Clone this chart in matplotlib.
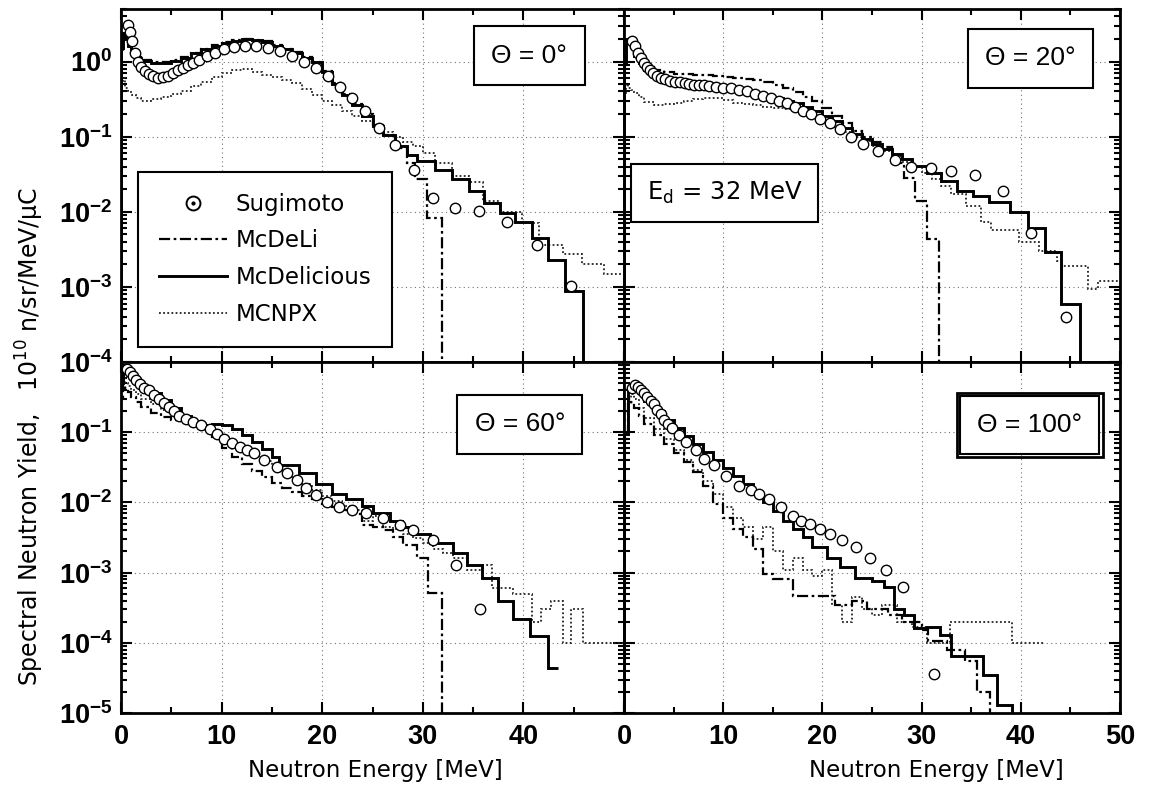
import math
import matplotlib
matplotlib.use("Agg")
import matplotlib.pyplot as plt
from matplotlib.lines import Line2D
from matplotlib.legend_handler import HandlerTuple
from matplotlib.ticker import MultipleLocator, LogLocator, NullFormatter

# ---------------- DATA ----------------
# Theta = 0 deg
E_sug_0 = [0.7, 0.9, 1.1, 1.4, 1.7, 2.0, 2.4, 2.8, 3.2, 3.7, 4.2, 4.7, 5.2, 5.7, 6.2, 6.7, 7.2, 7.8, 8.5, 9.3,
           10.2, 11.2, 12.3, 13.4, 14.6, 15.8, 17.0, 18.2, 19.4, 20.6, 21.8, 23.0, 24.3, 25.6, 27.2, 29.1, 31.0,
           33.2, 35.6, 38.4, 41.4, 44.7]
y_sug_0 = [3.1, 2.5, 1.9, 1.3, 1.0, 0.85, 0.75, 0.68, 0.64, 0.61, 0.62, 0.65, 0.70, 0.76, 0.82, 0.89, 0.96, 1.05,
           1.18, 1.3, 1.45, 1.55, 1.62, 1.62, 1.52, 1.38, 1.18, 0.98, 0.82, 0.64, 0.46, 0.33, 0.22, 0.13, 0.078,
           0.036, 0.0152, 0.0112, 0.0101, 0.0074, 0.0036, 0.00103]
edges_delicious_0 = [0, 0.2, 0.4, 0.7, 1.0, 1.5, 2, 3, 4, 5, 6, 7, 8, 9, 10, 11, 12, 13, 14, 15, 16, 17, 18, 19,
                     20, 21, 22, 23, 24, 25, 26, 27.2, 28.4, 29.4, 31.2, 32.9, 34.6, 36.1, 37.7, 39.2, 40.9, 42.4,
                     44.1, 45.9]
y_delicious_0 = [1.5, 2.4, 2.0, 1.6, 1.3, 1.12, 1.02, 0.97, 0.97, 1.03, 1.13, 1.28, 1.45, 1.62, 1.78, 1.9, 1.97,
                 1.95, 1.82, 1.62, 1.45, 1.3, 1.12, 0.98, 0.72, 0.5, 0.36, 0.26, 0.19, 0.14, 0.105, 0.074, 0.057,
                 0.047, 0.036, 0.027, 0.019, 0.013, 0.0096, 0.0074, 0.0045, 0.0023, 0.00087]
edges_deli_0 = [0, 0.2, 0.4, 0.7, 1.0, 1.5, 2, 3, 4, 5, 6, 7, 8, 9, 10, 11, 12, 13, 14, 15, 16, 17, 18, 19, 20,
                21, 22, 23, 24, 25, 26, 27.2, 28.4, 29.2, 30.4, 31.9]
y_deli_0 = [1.3, 2.3, 2.1, 1.7, 1.35, 1.15, 1.05, 1.0, 1.0, 1.05, 1.15, 1.3, 1.48, 1.65, 1.8, 1.92, 1.98, 1.95,
            1.85, 1.66, 1.48, 1.32, 1.15, 1.0, 0.75, 0.52, 0.37, 0.27, 0.2, 0.145, 0.105, 0.07, 0.045, 0.027,
            0.0083]
edges_mcnpx_0 = [0, 0.2, 0.4, 0.7, 1.0, 1.5, 2, 3, 4, 5, 6, 7, 8, 9, 10, 11, 12, 13, 14, 15, 16, 17, 18, 19, 20,
                 21, 22, 23, 24, 25, 26, 27, 28, 29, 30, 31.2, 32.9, 34.6, 36, 37.7, 39.9, 41.6, 43.9, 45.8, 48, 50]
y_mcnpx_0 = [0.5, 0.6, 0.45, 0.4, 0.36, 0.33, 0.3, 0.32, 0.34, 0.37, 0.41, 0.47, 0.54, 0.62, 0.7, 0.76, 0.79,
             0.72, 0.67, 0.62, 0.57, 0.52, 0.43, 0.36, 0.3, 0.26, 0.22, 0.19, 0.16, 0.14, 0.115, 0.1, 0.085,
             0.074, 0.06, 0.045, 0.03, 0.025, 0.0138, 0.01, 0.007, 0.0036, 0.0027, 0.002, 0.0015]

# Theta = 20 deg
E_sug_20 = [0.8, 1.1, 1.4, 1.7, 2.0, 2.3, 2.6, 2.9, 3.3, 3.7, 4.1, 4.6, 5.1, 5.6, 6.1, 6.6, 7.1, 7.6, 8.1, 8.6,
            9.3, 10.0, 10.8, 11.6, 12.4, 13.2, 14.0, 14.8, 15.6, 16.4, 17.2, 18.0, 18.9, 19.8, 20.8, 21.8, 22.9,
            24.1, 25.6, 27.3, 28.9, 30.9, 33.0, 35.4, 38.2, 41.0, 44.6]
y_sug_20 = [1.9, 1.6, 1.3, 1.1, 0.95, 0.85, 0.77, 0.71, 0.65, 0.61, 0.58, 0.55, 0.54, 0.53, 0.52, 0.5, 0.49, 0.49,
            0.48, 0.47, 0.46, 0.45, 0.44, 0.42, 0.4, 0.37, 0.35, 0.33, 0.3, 0.28, 0.25, 0.22, 0.2, 0.17, 0.15,
            0.125, 0.1, 0.08, 0.064, 0.049, 0.04, 0.038, 0.035, 0.031, 0.019, 0.0052, 0.0004]
edges_delicious_20 = [0, 0.2, 0.4, 0.7, 1.0, 1.5, 2, 3, 4, 5, 6, 7, 8, 9, 10, 11, 12, 13, 14, 15, 16, 17, 18, 19,
                      20, 21, 22, 23, 24, 25, 26, 27, 28, 29, 30.5, 32, 33.6, 35.2, 36.8, 38.9, 40.7, 42.4, 44.1,
                      46]
y_delicious_20 = [1.0, 2.0, 1.9, 1.6, 1.2, 0.95, 0.78, 0.64, 0.58, 0.55, 0.53, 0.51, 0.49, 0.47, 0.45, 0.43,
                  0.41, 0.38, 0.36, 0.33, 0.3, 0.28, 0.25, 0.22, 0.19, 0.16, 0.13, 0.11, 0.093, 0.08, 0.068,
                  0.058, 0.05, 0.041, 0.033, 0.026, 0.019, 0.016, 0.0135, 0.0098, 0.006, 0.0029, 0.0006]
edges_deli_20 = [0, 0.2, 0.4, 0.7, 1.0, 1.5, 2, 3, 4, 5, 6, 7, 8, 9, 10, 11, 12, 13, 14, 15, 16, 17, 18, 19, 20,
                 21, 22, 23, 24, 25, 26, 27, 28.2, 29.3, 30.5, 31.8]
y_deli_20 = [0.9, 1.9, 1.8, 1.5, 1.2, 1.0, 0.85, 0.76, 0.72, 0.69, 0.68, 0.67, 0.66, 0.64, 0.63, 0.61, 0.59, 0.57,
             0.54, 0.49, 0.44, 0.39, 0.34, 0.3, 0.24, 0.19, 0.15, 0.12, 0.1, 0.085, 0.072, 0.045, 0.028, 0.014,
             0.0043]
edges_mcnpx_20 = [0, 0.2, 0.4, 0.7, 1.0, 1.5, 2, 3, 4, 5, 6, 7, 8, 9, 10, 11, 12, 13, 14, 15, 16, 17, 18, 19, 20,
                  21, 22, 23, 24, 25, 26, 27, 28, 29, 30, 31, 32, 33, 34.5, 36, 37, 39.8, 41.8, 43.6, 44.2, 46.8,
                  47.8, 50]
y_mcnpx_20 = [0.35, 0.5, 0.45, 0.42, 0.38, 0.34, 0.29, 0.26, 0.27, 0.28, 0.3, 0.32, 0.33, 0.33, 0.31, 0.28, 0.27,
              0.26, 0.25, 0.24, 0.23, 0.21, 0.2, 0.18, 0.16, 0.135, 0.115, 0.1, 0.088, 0.075, 0.065, 0.055, 0.046,
              0.04, 0.033, 0.027, 0.022, 0.017, 0.012, 0.0072, 0.0058, 0.004, 0.003, 0.0022, 0.0019, 0.00095,
              0.0012]

# Theta = 60 deg
E_sug_60 = [0.6, 0.9, 1.2, 1.5, 1.9, 2.3, 2.8, 3.3, 3.8, 4.3, 4.8, 5.3, 5.8, 6.5, 7.2, 8.0, 8.8, 9.5, 10.2, 11.0,
            11.8, 12.5, 13.2, 14.2, 15.5, 16.5, 17.5, 18.4, 19.4, 20.5, 21.7, 23.0, 24.4, 26.0, 27.7, 29.0, 31.0,
            33.3, 35.7]
y_sug_60 = [0.8, 0.72, 0.63, 0.55, 0.48, 0.43, 0.4, 0.34, 0.3, 0.26, 0.23, 0.2, 0.17, 0.155, 0.14, 0.125, 0.112,
            0.095, 0.081, 0.07, 0.062, 0.055, 0.05, 0.04, 0.032, 0.026, 0.021, 0.016, 0.0126, 0.01, 0.0085,
            0.0077, 0.007, 0.0059, 0.0047, 0.004, 0.0029, 0.0013, 0.0003]
edges_delicious_60 = [0, 0.2, 0.4, 0.7, 1.0, 1.5, 2, 3, 4, 5, 6, 7, 8, 9, 10, 11, 12, 13, 14, 15, 15.7, 17.7,
                      19.4, 21, 22.4, 24, 25, 26.7, 27.9, 29, 30.7, 33, 34.4, 35.9, 37.5, 39, 40.7, 42.4, 43.4]
y_delicious_60 = [0.5, 0.9, 0.85, 0.75, 0.65, 0.55, 0.44, 0.36, 0.29, 0.22, 0.17, 0.135, 0.128, 0.13, 0.125,
                  0.11, 0.09, 0.073, 0.058, 0.045, 0.034, 0.026, 0.018, 0.013, 0.011, 0.009, 0.007, 0.0055,
                  0.0045, 0.0036, 0.0026, 0.0019, 0.0013, 0.00085, 0.0004, 0.00022, 0.000126, 4.4e-5]
edges_deli_60 = [0, 0.2, 0.4, 0.7, 1.0, 1.5, 2, 3, 4, 5, 6, 7, 8, 9, 10, 11, 12, 13, 14, 15, 16, 17, 18, 19, 20,
                 21, 22, 23, 24, 25, 26, 27, 28, 29.4, 30.5, 31.9]
y_deli_60 = [0.3, 0.5, 0.42, 0.37, 0.32, 0.27, 0.23, 0.19, 0.165, 0.15, 0.145, 0.135, 0.115, 0.085, 0.06, 0.045,
             0.035, 0.028, 0.023, 0.019, 0.016, 0.014, 0.0125, 0.011, 0.0095, 0.0085, 0.0078, 0.0068, 0.0047,
             0.0045, 0.004, 0.0032, 0.0025, 0.0016, 0.00052]
edges_mcnpx_60 = [0, 0.2, 0.4, 0.7, 1.0, 1.5, 2, 3, 4, 5, 6, 7, 8, 9, 10, 11, 12, 13, 14, 15, 16, 17, 18, 19, 20,
                  21, 22, 23, 24, 25, 26, 27, 28, 29, 30, 31, 32, 33, 34.4, 36, 36.9, 39, 40.9, 41.7, 42.7, 43.9,
                  44.7, 45.9, 50]
y_mcnpx_60 = [0.5, 0.6, 0.5, 0.45, 0.4, 0.35, 0.3, 0.25, 0.21, 0.18, 0.155, 0.135, 0.115, 0.095, 0.08, 0.066,
              0.055, 0.046, 0.039, 0.033, 0.027, 0.022, 0.018, 0.015, 0.0125, 0.0105, 0.009, 0.0078, 0.0055,
              0.0063, 0.0045, 0.0042, 0.0036, 0.0031, 0.0026, 0.0022, 0.0019, 0.0016, 0.0011, 0.0013, 0.0006,
              0.0005, 0.0002, 0.0003, 0.0004, 0.0001, 0.0003, 0.0001]

# Theta = 100 deg
E_sug_100 = [0.8, 1.1, 1.4, 1.7, 2.0, 2.3, 2.7, 3.0, 3.3, 3.7, 4.0, 4.4, 4.8, 5.5, 6.3, 7.3, 8.1, 9.1, 10.3, 11.6,
             12.8, 13.6, 14.6, 15.8, 17.0, 17.8, 18.8, 19.8, 20.8, 22.0, 23.4, 24.8, 26.4, 28.1, 31.2]
y_sug_100 = [0.42, 0.47, 0.44, 0.4, 0.36, 0.32, 0.28, 0.25, 0.21, 0.18, 0.15, 0.13, 0.113, 0.091, 0.073, 0.055,
             0.042, 0.034, 0.024, 0.017, 0.015, 0.013, 0.011, 0.0085, 0.0065, 0.0055, 0.0049, 0.0042, 0.0035,
             0.0029, 0.0023, 0.0016, 0.0011, 0.00063, 3.6e-5]
edges_delicious_100 = [0, 0.4, 0.7, 1.0, 1.5, 2, 3, 4, 5, 6, 7, 8, 9, 10, 11, 12, 13, 14, 15, 16, 17, 18, 19,
                       20.5, 21.8, 23.3, 25, 26.2, 27.2, 28.2, 29.2, 30.5, 31.9, 33, 36.2, 37.6, 39.1]
y_delicious_100 = [0.1, 0.4, 0.48, 0.45, 0.37, 0.28, 0.2, 0.15, 0.115, 0.088, 0.068, 0.052, 0.04, 0.031, 0.024,
                   0.018, 0.013, 0.01, 0.0075, 0.0055, 0.0042, 0.0032, 0.0023, 0.0016, 0.0012, 0.00085, 0.00075,
                   0.00062, 0.0003, 0.00025, 0.00016, 0.00017, 0.00013, 6.4e-5, 3.5e-5, 1.3e-5]
edges_deli_100 = [0, 0.4, 0.7, 1.0, 1.5, 2, 3, 4, 5, 6, 7, 8, 9, 10, 11, 12, 13, 14, 15, 17, 21.3, 23, 24.5,
                  26.6, 28, 30, 30.6, 32.6, 34.4, 35.6, 36.9]
y_deli_100 = [0.08, 0.25, 0.27, 0.22, 0.17, 0.13, 0.09, 0.068, 0.05, 0.038, 0.027, 0.017, 0.0095, 0.006, 0.0042,
              0.0032, 0.0022, 0.00095, 0.0008, 0.00047, 0.00035, 0.0004, 0.0003, 0.00025, 0.0002, 0.00015,
              0.000107, 8e-5, 5.5e-5, 2e-5]
edges_mcnpx_100 = [0, 0.4, 0.7, 1.0, 1.5, 2, 3, 4, 5, 6, 7, 8, 9, 10, 11, 12, 13, 14, 15, 16, 17, 18, 19, 20,
                   21, 22, 23, 24, 25, 26, 27.5, 29, 30.5, 32.9, 39.1, 42.3]
y_mcnpx_100 = [0.1, 0.3, 0.35, 0.3, 0.22, 0.16, 0.11, 0.08, 0.056, 0.04, 0.029, 0.02, 0.013, 0.0085, 0.006,
               0.0045, 0.003, 0.0045, 0.002, 0.0011, 0.0016, 0.0011, 0.0009, 0.0011, 0.00035, 0.0002, 0.00045,
               0.0003, 0.00025, 0.00035, 0.0002, 0.00017, 0.0001, 0.0002, 0.0001]

angle_labels = ["Θ = 0°", "Θ = 20°", "Θ = 60°", "Θ = 100°"]
legend_labels = ["Sugimoto", "McDeLi", "McDelicious", "MCNPX"]
x_tick_values = [0, 10, 20, 30, 40, 50]
y_ticks_top = [1e-4, 1e-3, 1e-2, 1e-1, 1e0]
y_ticks_bottom = [1e-5, 1e-4, 1e-3, 1e-2, 1e-1, 1e0]

# ---------------- STYLE ----------------
plt.rcParams['font.family'] = ['DejaVu Sans']
plt.rcParams['mathtext.default'] = 'regular'
plt.rcParams['axes.linewidth'] = 2.0

STY_DELI = dict(color='black', linewidth=1.6, linestyle=(0, (5, 1.6, 1.2, 1.6)))
STY_DELICIOUS = dict(color='black', linewidth=2.1, linestyle='-')
STY_MCNPX = dict(color='#222222', linewidth=1.3, linestyle=(0, (1, 1.3)))
TICKFONT = dict(family='Liberation Sans', weight='bold', size=19.5)

fig = plt.figure(figsize=(11.57, 7.86), dpi=100)
W, H = 1157, 786
L, M, R = 121 / W, 624 / W, 1120 / W
T, MID, B = 1 - 9 / H, 1 - 362 / H, 1 - 713 / H
axTL = fig.add_axes([L, MID, M - L, T - MID])
axTR = fig.add_axes([M, MID, R - M, T - MID])
axBL = fig.add_axes([L, B, M - L, MID - B])
axBR = fig.add_axes([M, B, R - M, MID - B])

BASE = 1e-9


def draw(ax, Es, ys, e_deli, y_deli, e_del, y_del, e_mc, y_mc, del_drop):
    ax.stairs(y_mc, e_mc, baseline=None, zorder=2, **STY_MCNPX)
    ax.stairs(y_deli, e_deli, baseline=BASE, zorder=3, **STY_DELI)
    ax.stairs(y_del, e_del, baseline=BASE if del_drop else None, zorder=4, **STY_DELICIOUS)
    ax.plot(Es, ys, ls='none', marker='o', ms=7.5, mfc='white', mec='black', mew=1.0, zorder=5)


draw(axTL, E_sug_0, y_sug_0, edges_deli_0, y_deli_0, edges_delicious_0, y_delicious_0,
     edges_mcnpx_0, y_mcnpx_0, True)
draw(axTR, E_sug_20, y_sug_20, edges_deli_20, y_deli_20, edges_delicious_20, y_delicious_20,
     edges_mcnpx_20, y_mcnpx_20, True)
draw(axBL, E_sug_60, y_sug_60, edges_deli_60, y_deli_60, edges_delicious_60, y_delicious_60,
     edges_mcnpx_60, y_mcnpx_60, False)
draw(axBR, E_sug_100, y_sug_100, edges_deli_100, y_deli_100, edges_delicious_100, y_delicious_100,
     edges_mcnpx_100, y_mcnpx_100, True)


def exp_label(v):
    return r'$10^{%d}$' % int(round(math.log10(v)))


for ax, top, left in [(axTL, True, True), (axTR, True, False), (axBL, False, True), (axBR, False, False)]:
    ax.set_yscale('log')
    ax.set_xlim(0, 50)
    if top:
        ax.set_ylim(1e-4, 5)
        yt = y_ticks_top
        ylabs = [exp_label(v) for v in yt]
    else:
        ax.set_ylim(1e-5, 1)
        yt = y_ticks_bottom
        ylabs = [exp_label(v) for v in yt[:-1]] + ['']
    if left:
        ax.set_yticks(yt, ylabs, **TICKFONT)
    else:
        ax.set_yticks(yt, [''] * len(yt))
    ax.yaxis.set_minor_locator(LogLocator(base=10, subs=(2, 3, 4, 5, 6, 7, 8, 9), numticks=20))
    ax.yaxis.set_minor_formatter(NullFormatter())
    if top:
        ax.set_xticks(x_tick_values, [''] * len(x_tick_values))
    else:
        labs = [str(v) for v in x_tick_values]
        if left:
            labs[-1] = ''
        ax.set_xticks(x_tick_values, labs, **TICKFONT)
    ax.xaxis.set_minor_locator(MultipleLocator(5))
    ax.tick_params(which='both', direction='in', top=True, right=True, width=1.5, colors='black')
    ax.tick_params(which='major', length=8)
    ax.tick_params(which='minor', length=4.5)
    ax.tick_params(axis='x', which='major', pad=8)
    ax.tick_params(axis='y', which='major', pad=6)
    ax.grid(True, which='major', linestyle=(0, (1, 3)), color='0.45', linewidth=0.8)
    ax.set_axisbelow(True)


def box(ax, x, y, s, fam='Liberation Sans', size=19, pad=0.65, double=False):
    ax.text(x, y, s, transform=ax.transAxes, ha='center', va='center', fontsize=size, family=fam,
            bbox=dict(boxstyle='square,pad=%g' % pad, fc='white', ec='black', lw=1.5), zorder=10)
    if double:
        ax.text(x, y, s, transform=ax.transAxes, ha='center', va='center', fontsize=size, family=fam,
                color='none',
                bbox=dict(boxstyle='square,pad=%g' % (pad + 0.12), fc='none', ec='black', lw=2.0), zorder=11)


box(axTL, 0.812, 0.868, angle_labels[0])
box(axTR, 0.819, 0.860, angle_labels[1])
box(axBL, 0.793, 0.822, angle_labels[2])
box(axBR, 0.818, 0.820, angle_labels[3], double=True)
box(axTR, 0.203, 0.479, r'E$_d$ = 32 MeV', fam='DejaVu Sans', size=17.5, pad=0.65)

# legend
h_sug = (Line2D([], [], ls='none', marker='o', ms=10, mfc='white', mec='black', mew=1.4),
         Line2D([], [], ls='none', marker='o', ms=2, mfc='black', mec='black'))
h_deli = Line2D([], [], **STY_DELI)
h_del = Line2D([], [], **STY_DELICIOUS)
h_mc = Line2D([], [], **STY_MCNPX)
leg = axTL.legend([h_sug, h_deli, h_del, h_mc], legend_labels,
                  handler_map={tuple: HandlerTuple(ndivide=1)},
                  loc='upper left', bbox_to_anchor=(0.034, 0.538), borderaxespad=0,
                  fontsize=16.5, handlelength=3.0, handletextpad=0.35, borderpad=0.9,
                  labelspacing=0.6, fancybox=False, framealpha=1, edgecolor='black', numpoints=1)
leg.get_frame().set_linewidth(1.5)
leg.set_zorder(12)

# axis labels
fig.text(375 / W, 1 - 770 / H, 'Neutron Energy [MeV]', ha='center', va='center', fontsize=16.5)
fig.text(936 / W, 1 - 770 / H, 'Neutron Energy [MeV]', ha='center', va='center', fontsize=16.5)
fig.text(30 / W, 1 - 436 / H, 'Spectral Neutron Yield,   $10^{10}$ n/sr/MeV/μC', ha='center', va='center',
         rotation=90, fontsize=17)

fig.savefig('out.png', dpi=100)
